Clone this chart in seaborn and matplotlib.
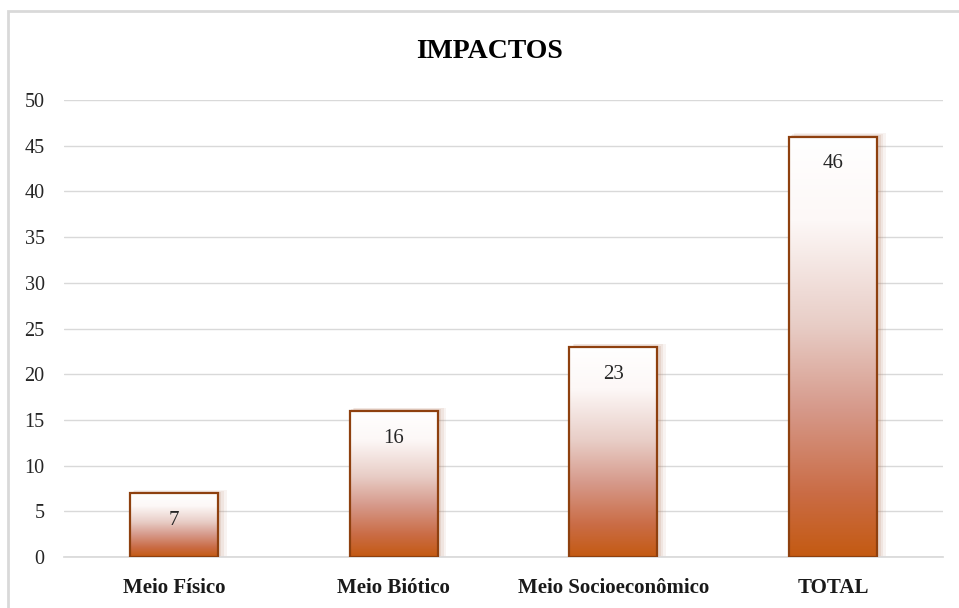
import numpy as np
import pandas as pd
import matplotlib
matplotlib.use("Agg")
import matplotlib.pyplot as plt
import seaborn as sns
from matplotlib.colors import LinearSegmentedColormap
from matplotlib.patches import Rectangle

categories = ["Meio Físico", "Meio Biótico", "Meio Socioeconômico", "TOTAL"]
values = [7, 16, 23, 46]
yticks = [0, 5, 10, 15, 20, 25, 30, 35, 40, 45, 50]

sns.set_theme(style="white")
plt.rcParams['font.family'] = ['Liberation Serif', 'DejaVu Serif']

df = pd.DataFrame({"cat": categories, "val": values})

fig = plt.figure(figsize=(9.59, 6.08), dpi=100)
ax = fig.add_axes([64/959, 51/608, (943-64)/959, (557-100)/608])

sns.barplot(data=df, x="cat", y="val", ax=ax, width=0.4, color="white",
            edgecolor="#8E400F", linewidth=1.6, zorder=3)

ax.set_ylim(0, 50)
ax.set_xlim(-0.5, 3.5)
ax.set_yticks(yticks)
ax.set_yticklabels([str(t) for t in yticks], fontsize=14.5, color="#262626")
ax.yaxis.grid(True, color="#D9D9D9", linewidth=1.0, zorder=0)
ax.set_axisbelow(True)
for s in ax.spines.values():
    s.set_visible(False)
ax.spines['bottom'].set_visible(True)
ax.spines['bottom'].set_color("#D9D9D9")
ax.tick_params(axis='y', length=0, pad=14)
ax.tick_params(axis='x', length=0, pad=15)
ax.set_xlabel("")
ax.set_ylabel("")
for lab in ax.get_xticklabels():
    lab.set_fontweight("bold")
    lab.set_fontsize(15)
    lab.set_color("#1a1a1a")

cmap = LinearSegmentedColormap.from_list(
    "g", [(0.0, "#C45A12"), (0.15, "#CA6C45"), (0.35, "#D6998A"),
          (0.55, "#E8CDC6"), (0.8, "#FDF8F7"), (1.0, "#FFFFFF")])
grad = np.linspace(0, 1, 256).reshape(-1, 1)

for p, v in zip(ax.patches, values):
    x0, y0 = p.get_x(), p.get_y()
    w, h = p.get_width(), p.get_height()
    # soft shadow
    for dx, dy, a in [(0.04, 0.35, 0.08), (0.028, 0.25, 0.10), (0.016, 0.14, 0.14)]:
        sh = Rectangle((x0 + dx * 0.5, y0), w + dx * 0.5, h + dy, facecolor="#B07050",
                       alpha=a, edgecolor="none", zorder=2)
        ax.add_patch(sh)
    p.set_facecolor("none")
    im = ax.imshow(grad, extent=[x0, x0 + w, y0, y0 + h], origin="lower",
                   aspect="auto", cmap=cmap, zorder=2.5)
    im.set_clip_path(p)
    ax.text(x0 + w / 2, v - 3.0, str(v), ha="center", va="center",
            fontsize=15, color="#262626", zorder=4)

ax.set_xlim(-0.5, 3.5)
ax.set_ylim(0, 50)

fig.text(489/959, 1 - 52/608, "IMPACTOS", ha="center", va="center",
         fontsize=20, fontweight="bold", color="black")

border = Rectangle((8/959, -0.01), 1.2, (608 - 11) / 608 + 0.01,
                   transform=fig.transFigure, fill=False, edgecolor="#D9D9D9",
                   linewidth=2.0)
fig.patches.append(border)

fig.savefig("out.png", dpi=100)
